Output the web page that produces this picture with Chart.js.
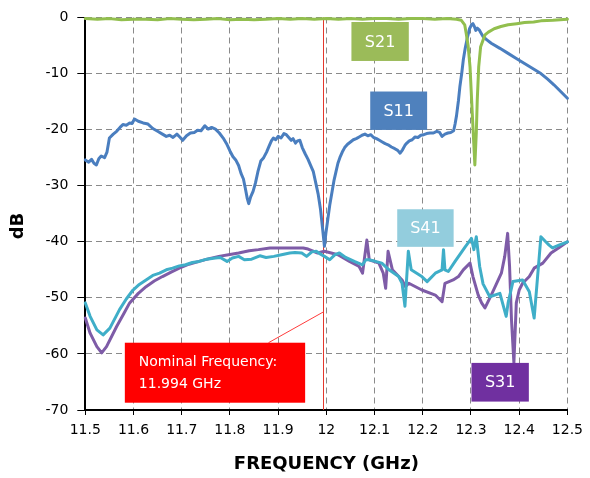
<!DOCTYPE html>
<html>
<head>
<meta charset="utf-8">
<script src="https://cdn.jsdelivr.net/npm/chart.js@4.4.0/dist/chart.umd.min.js"></script>
<style>
  html, body { margin: 0; padding: 0; background: #fff; }
</style>
</head>
<body>
<canvas id="sparamChart" width="590" height="478"></canvas>
<script>
// S-parameter sweep, values
const xTickLabels = ["11.5", "11.6", "11.7", "11.8", "11.9", "12", "12.1", "12.2", "12.3", "12.4", "12.5"];
const yTickLabels = ["-70", "-60", "-50", "-40", "-30", "-20", "-10", "0"];
const nominalFreq = 11.994;

const s11Freq = [11.500, 11.507, 11.513, 11.518, 11.523, 11.528, 11.533, 11.540, 11.545, 11.550, 11.558, 11.565, 11.572, 11.578, 11.585, 11.592, 11.597, 11.602, 11.610, 11.620, 11.630, 11.640, 11.650, 11.660, 11.668, 11.675, 11.682, 11.690, 11.697, 11.702, 11.710, 11.718, 11.726, 11.733, 11.740, 11.748, 11.755, 11.762, 11.770, 11.778, 11.786, 11.793, 11.800, 11.806, 11.812, 11.818, 11.823, 11.828, 11.832, 11.836, 11.839, 11.843, 11.848, 11.853, 11.858, 11.864, 11.870, 11.876, 11.881, 11.886, 11.890, 11.895, 11.900, 11.906, 11.912, 11.917, 11.922, 11.927, 11.931, 11.936, 11.940, 11.945, 11.950, 11.956, 11.962, 11.968, 11.973, 11.978, 11.983, 11.988, 11.992, 11.996, 11.999, 12.003, 12.007, 12.012, 12.016, 12.020, 12.024, 12.028, 12.033, 12.038, 12.044, 12.050, 12.056, 12.062, 12.068, 12.074, 12.080, 12.086, 12.092, 12.098, 12.104, 12.110, 12.116, 12.122, 12.128, 12.135, 12.142, 12.148, 12.153, 12.158, 12.163, 12.167, 12.172, 12.178, 12.184, 12.190, 12.196, 12.202, 12.208, 12.215, 12.222, 12.229, 12.235, 12.240, 12.246, 12.252, 12.258, 12.264, 12.267, 12.270, 12.274, 12.277, 12.281, 12.284, 12.288, 12.293, 12.297, 12.301, 12.304, 12.307, 12.310, 12.313, 12.317, 12.321, 12.325, 12.333, 12.342, 12.360, 12.377, 12.394, 12.411, 12.428, 12.445, 12.459, 12.472, 12.486, 12.500];
const s11Db = [-25.4, -25.8, -25.3, -26.0, -26.3, -25.2, -24.7, -25.0, -24.0, -21.5, -20.8, -20.3, -19.6, -19.1, -19.2, -18.8, -18.9, -18.1, -18.5, -18.8, -19.0, -19.8, -20.3, -20.8, -21.2, -21.0, -21.4, -20.8, -21.4, -21.9, -21.1, -20.6, -20.5, -20.1, -20.2, -19.3, -19.9, -19.6, -19.9, -20.6, -21.5, -22.5, -23.8, -24.8, -25.4, -26.4, -27.8, -28.8, -30.5, -32.3, -33.2, -32.0, -31.0, -29.5, -27.5, -25.6, -25.0, -24.0, -23.0, -22.0, -21.5, -21.8, -21.2, -21.5, -20.7, -20.9, -21.4, -21.9, -21.6, -22.4, -22.0, -21.9, -23.2, -24.3, -25.3, -26.5, -27.5, -29.5, -31.5, -34.3, -37.5, -40.8, -38.5, -36.0, -33.5, -31.0, -29.0, -27.5, -26.0, -25.0, -24.0, -23.2, -22.6, -22.2, -21.8, -21.6, -21.3, -21.0, -20.8, -21.1, -20.9, -21.4, -21.6, -21.9, -22.2, -22.5, -22.7, -23.1, -23.4, -23.7, -24.2, -23.6, -22.8, -22.4, -22.0, -21.8, -21.3, -21.4, -21.0, -20.9, -20.7, -20.6, -20.6, -20.3, -20.5, -21.2, -20.8, -20.6, -20.5, -20.2, -19.0, -17.5, -14.8, -12.3, -9.8, -7.6, -5.5, -3.4, -2.0, -1.3, -1.1, -1.6, -2.3, -1.9, -2.2, -2.8, -3.4, -4.0, -4.6, -5.5, -6.4, -7.3, -8.2, -9.1, -10.0, -11.0, -12.0, -13.2, -14.4];

const s21Freq = [11.500, 11.525, 11.550, 11.575, 11.600, 11.625, 11.650, 11.675, 11.700, 11.725, 11.750, 11.775, 11.800, 11.825, 11.850, 11.875, 11.900, 11.925, 11.950, 11.975, 12.000, 12.025, 12.050, 12.075, 12.100, 12.125, 12.150, 12.175, 12.200, 12.225, 12.250, 12.270, 12.280, 12.287, 12.290, 12.294, 12.298, 12.303, 12.308, 12.311, 12.313, 12.316, 12.320, 12.329, 12.336, 12.348, 12.362, 12.377, 12.395, 12.411, 12.430, 12.445, 12.470, 12.500];
const s21Db = [-0.2, -0.3, -0.2, -0.4, -0.3, -0.3, -0.4, -0.2, -0.3, -0.4, -0.3, -0.2, -0.4, -0.3, -0.4, -0.3, -0.2, -0.3, -0.2, -0.3, -0.2, -0.3, -0.2, -0.3, -0.2, -0.2, -0.3, -0.2, -0.2, -0.3, -0.2, -0.3, -0.5, -1.3, -2.8, -5.0, -8.8, -17.7, -26.3, -20.6, -14.7, -8.8, -5.2, -3.1, -2.6, -2.0, -1.6, -1.3, -1.1, -0.9, -0.8, -0.6, -0.5, -0.3];

const s41Freq = [11.500, 11.510, 11.524, 11.537, 11.551, 11.571, 11.585, 11.599, 11.612, 11.626, 11.640, 11.654, 11.668, 11.681, 11.695, 11.708, 11.722, 11.736, 11.752, 11.770, 11.780, 11.794, 11.805, 11.818, 11.830, 11.845, 11.862, 11.875, 11.891, 11.907, 11.924, 11.935, 11.949, 11.959, 11.970, 11.979, 11.988, 11.996, 12.007, 12.018, 12.027, 12.040, 12.058, 12.075, 12.082, 12.089, 12.102, 12.115, 12.130, 12.150, 12.157, 12.163, 12.170, 12.176, 12.198, 12.209, 12.226, 12.240, 12.243, 12.246, 12.253, 12.267, 12.288, 12.301, 12.306, 12.311, 12.318, 12.325, 12.339, 12.360, 12.373, 12.377, 12.387, 12.407, 12.421, 12.431, 12.445, 12.455, 12.462, 12.469, 12.485, 12.500];
const s41Db = [-50.9, -53.3, -55.7, -56.6, -55.4, -52.1, -50.2, -48.6, -47.6, -46.8, -46.0, -45.6, -45.0, -44.7, -44.3, -44.1, -43.7, -43.5, -43.1, -42.9, -42.8, -43.5, -42.9, -42.6, -43.2, -43.1, -42.5, -42.8, -42.6, -42.3, -42.0, -41.9, -42.0, -42.6, -41.8, -41.7, -42.2, -42.6, -43.2, -42.3, -42.0, -42.8, -43.5, -44.1, -43.2, -43.2, -43.5, -43.8, -45.0, -46.2, -47.4, -51.5, -41.7, -45.0, -46.2, -47.1, -45.6, -45.0, -41.4, -45.0, -45.3, -43.5, -40.9, -39.4, -41.4, -39.1, -44.4, -47.5, -49.8, -49.2, -53.3, -50.9, -47.1, -46.8, -48.9, -53.6, -39.1, -40.0, -40.6, -41.1, -40.5, -40.0];

const s31Freq = [11.500, 11.510, 11.524, 11.534, 11.544, 11.565, 11.580, 11.592, 11.610, 11.626, 11.643, 11.660, 11.678, 11.695, 11.715, 11.736, 11.757, 11.777, 11.797, 11.818, 11.840, 11.859, 11.883, 11.900, 11.921, 11.952, 11.962, 11.982, 11.996, 12.010, 12.024, 12.048, 12.068, 12.075, 12.084, 12.089, 12.109, 12.118, 12.123, 12.128, 12.137, 12.157, 12.164, 12.171, 12.198, 12.226, 12.240, 12.246, 12.263, 12.274, 12.284, 12.298, 12.304, 12.315, 12.322, 12.329, 12.342, 12.363, 12.370, 12.376, 12.380, 12.384, 12.389, 12.394, 12.400, 12.407, 12.421, 12.431, 12.449, 12.466, 12.483, 12.500];
const s31Db = [-53.6, -56.3, -58.7, -59.8, -58.7, -55.1, -52.8, -50.9, -49.2, -48.0, -47.0, -46.2, -45.4, -44.7, -44.0, -43.5, -43.0, -42.6, -42.3, -42.0, -41.6, -41.4, -41.1, -41.1, -41.1, -41.1, -41.3, -42.0, -41.7, -42.0, -42.3, -43.5, -44.4, -45.6, -39.7, -43.2, -43.8, -45.6, -48.3, -41.7, -45.0, -46.8, -48.0, -47.4, -48.6, -49.5, -50.7, -47.4, -46.8, -46.2, -45.0, -43.8, -46.2, -49.5, -50.9, -51.8, -49.5, -45.6, -42.6, -38.5, -44.4, -53.9, -61.6, -50.9, -48.6, -47.4, -46.2, -44.7, -43.8, -42.0, -41.0, -40.0];

const toPoints = (xs, ys) => xs.map((x, i) => ({ x: x, y: ys[i] }));

// callout boxes, placed in data units
const callouts = [
  { text: "S21", x0: 12.052, x1: 12.171, y0: -0.8, y1: -7.75, fill: "#9BBB59" },
  { text: "S11", x0: 12.091, x1: 12.209, y0: -13.2, y1: -20.05, fill: "#4F81BD" },
  { text: "S41", x0: 12.147, x1: 12.264, y0: -34.2, y1: -40.9, fill: "#93CDDD" },
  { text: "S31", x0: 12.301, x1: 12.420, y0: -61.6, y1: -68.5, fill: "#7030A0" }
];

const annotations = {
  id: "annotations",
  beforeDatasetsDraw(chart) {
    const { ctx, chartArea } = chart;
    const px = Math.round(chart.scales.x.getPixelForValue(nominalFreq)) + 0.5;
    ctx.save();
    ctx.strokeStyle = "#E4382C";
    ctx.lineWidth = 1;
    ctx.beginPath();
    ctx.moveTo(px, chartArea.top);
    ctx.lineTo(px, chartArea.bottom);
    ctx.stroke();
    ctx.restore();
  },
  afterDatasetsDraw(chart) {
    const { ctx } = chart;
    const xs = chart.scales.x, ys = chart.scales.y;
    ctx.save();

    // leader from the note box to the marker line
    ctx.strokeStyle = "#FF3B3B";
    ctx.lineWidth = 1;
    ctx.beginPath();
    ctx.moveTo(xs.getPixelForValue(11.880), ys.getPixelForValue(-58.0));
    ctx.lineTo(xs.getPixelForValue(nominalFreq), ys.getPixelForValue(-52.5));
    ctx.stroke();

    callouts.forEach(c => {
      const l = xs.getPixelForValue(c.x0), r = xs.getPixelForValue(c.x1);
      const t = ys.getPixelForValue(c.y0), b = ys.getPixelForValue(c.y1);
      ctx.fillStyle = c.fill;
      ctx.fillRect(l, t, r - l, b - t);
      ctx.fillStyle = "#fff";
      ctx.font = "16px 'DejaVu Sans'";
      ctx.textAlign = "center";
      ctx.textBaseline = "middle";
      ctx.fillText(c.text, (l + r) / 2, (t + b) / 2 + 1);
    });

    // nominal frequency note
    const nl = xs.getPixelForValue(11.582), nr = xs.getPixelForValue(11.956);
    const nt = ys.getPixelForValue(-58.0), nb = ys.getPixelForValue(-68.7);
    ctx.fillStyle = "#FF0000";
    ctx.fillRect(nl, nt, nr - nl, nb - nt);
    ctx.fillStyle = "#fff";
    ctx.font = "14px 'DejaVu Sans'";
    ctx.textAlign = "left";
    ctx.textBaseline = "middle";
    ctx.fillText("Nominal Frequency:", nl + 14, nt + 20);
    ctx.fillText(nominalFreq + " GHz", nl + 14, nt + 42);

    // y axis title
    ctx.fillStyle = "#000";
    ctx.font = "bold 18px 'DejaVu Sans'";
    ctx.textAlign = "center";
    ctx.translate(18, 226);
    ctx.rotate(-Math.PI / 2);
    ctx.fillText("dB", 0, 0);
    ctx.restore();
  }
};

const lineStyle = { borderWidth: 3, pointRadius: 0, tension: 0, clip: 6, borderJoinStyle: "round", borderCapStyle: "round" };
const tickFont = { family: "'DejaVu Sans'", size: 14 };

new Chart(document.getElementById("sparamChart"), {
  type: "line",
  data: {
    datasets: [
      { label: "S21", data: toPoints(s21Freq, s21Db), borderColor: "#92BF4E", ...lineStyle },
      { label: "S11", data: toPoints(s11Freq, s11Db), borderColor: "#4A7EBF", ...lineStyle },
      { label: "S41", data: toPoints(s41Freq, s41Db), borderColor: "#3FAEC8", ...lineStyle },
      { label: "S31", data: toPoints(s31Freq, s31Db), borderColor: "#7E5CA7", ...lineStyle }
    ]
  },
  options: {
    responsive: false,
    devicePixelRatio: 1,
    animation: false,
    layout: { padding: { top: 17.5, right: 18.3, left: 0, bottom: 0 } },
    plugins: { legend: { display: false }, tooltip: { enabled: false } },
    scales: {
      x: {
        type: "linear",
        min: 11.5,
        max: 12.5,
        ticks: {
          stepSize: 0.1,
          autoSkip: false,
          maxRotation: 0,
          padding: 7,
          color: "#000",
          font: tickFont,
          callback: (v, i) => xTickLabels[i]
        },
        grid: { color: "#8a8a8a", tickColor: "#000", tickLength: 5, lineWidth: 1 },
        border: { color: "#000", width: 2, dash: [6, 4] },
        title: {
          display: true,
          text: "FREQUENCY (GHz)",
          color: "#000",
          font: { family: "'DejaVu Sans'", size: 18, weight: "bold" },
          padding: { top: 0, bottom: 3 }
        },
        afterFit: s => { s.height = 68; }
      },
      y: {
        min: -70,
        max: 0,
        ticks: {
          stepSize: 10,
          padding: 9,
          color: "#000",
          font: tickFont,
          callback: (v, i) => yTickLabels[i]
        },
        grid: { color: "#8a8a8a", tickColor: "#000", tickLength: 8, lineWidth: 1 },
        border: { color: "#000", width: 2, dash: [6, 4] },
        afterFit: s => { s.width = 85.3; }
      }
    }
  },
  plugins: [annotations]
});
</script>
</body>
</html>
